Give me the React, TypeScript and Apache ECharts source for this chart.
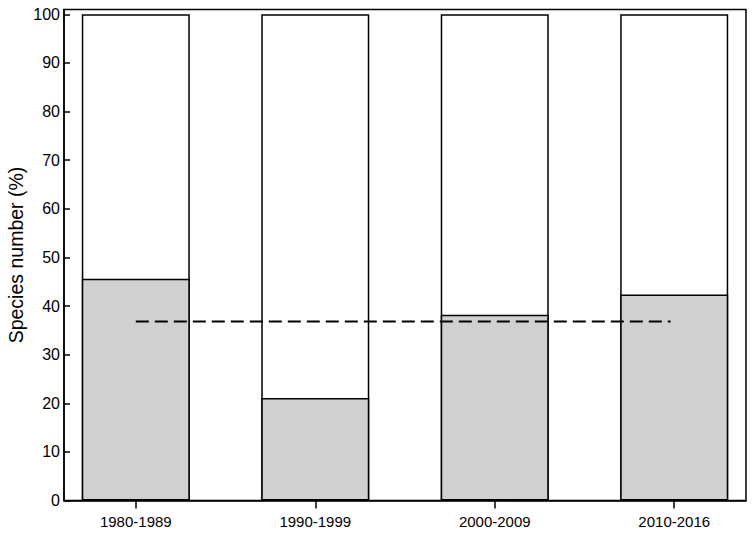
import React, { useEffect, useRef } from "react";
import * as echarts from "echarts";

const categories = ["1980-1989", "1990-1999", "2000-2009", "2010-2016"];
const positions = [1, 2, 3, 4];
const totalValues = [100, 100, 100, 100];
const grayValues = [45.6, 21.1, 38.2, 42.4];
const meanValue = 36.8;
const meanStart = 1;
const meanEnd = 3.98;
const yTicks = [0, 10, 20, 30, 40, 50, 60, 70, 80, 90, 100];

export default function App() {
  const ref = useRef<HTMLDivElement>(null);
  useEffect(() => {
    const chart = echarts.init(ref.current!, null, { renderer: "svg" });
    const font = "'Liberation Sans', Arial, sans-serif";
    chart.setOption({
      animation: false,
      backgroundColor: "#ffffff",
      grid: {
        left: 64,
        right: 7,
        top: 9.5,
        bottom: 44.5,
        show: true,
        borderColor: "#000",
        borderWidth: 1.5,
        containLabel: false,
        outerBoundsMode: "none",
      },
      xAxis: {
        type: "value",
        min: 0.6,
        max: 4.4,
        splitLine: { show: false },
        axisLine: { show: true, lineStyle: { color: "#000", width: 1.5 } },
        axisTick: {
          show: true,
          inside: false,
          length: 8,
          customValues: positions,
          lineStyle: { color: "#000", width: 1.5 },
        },
        axisLabel: {
          customValues: positions,
          margin: 13,
          color: "#000",
          fontSize: 15,
          fontFamily: font,
          formatter: (v: number) => categories[positions.indexOf(Math.round(v))] ?? "",
        },
      },
      yAxis: {
        type: "value",
        min: 0,
        max: 101,
        name: "Species number (%)",
        nameLocation: "middle",
        nameGap: 38,
        nameMoveOverlap: false,
        nameTextStyle: { color: "#000", fontSize: 19.5, fontFamily: font },
        splitLine: { show: false },
        axisLine: { show: true, lineStyle: { color: "#000", width: 1.5 } },
        axisTick: {
          show: true,
          inside: true,
          length: 6,
          customValues: yTicks,
          lineStyle: { color: "#000", width: 1.5 },
        },
        axisLabel: {
          customValues: yTicks,
          margin: 4,
          color: "#000",
          fontSize: 16,
          fontFamily: font,
        },
      },
      series: [
        {
          type: "bar",
          data: positions.map((p, i) => [p, totalValues[i]]),
          barWidth: 108,
          itemStyle: { color: "#ffffff", borderColor: "#000", borderWidth: 1.5 },
          z: 1,
        },
        {
          type: "bar",
          data: positions.map((p, i) => [p, grayValues[i]]),
          barWidth: 108,
          barGap: "-100%",
          itemStyle: { color: "#d0d0d0", borderColor: "#000", borderWidth: 1.5 },
          z: 2,
        },
        {
          type: "line",
          data: [
            [meanStart, meanValue],
            [meanEnd, meanValue],
          ],
          symbol: "none",
          lineStyle: { color: "#000", width: 2, type: [13, 6] },
          z: 5,
        },
      ],
    });
    return () => chart.dispose();
  }, []);
  return <div ref={ref} style={{ width: 753, height: 545, position: "absolute", left: 0, top: 0 }} />;
}
